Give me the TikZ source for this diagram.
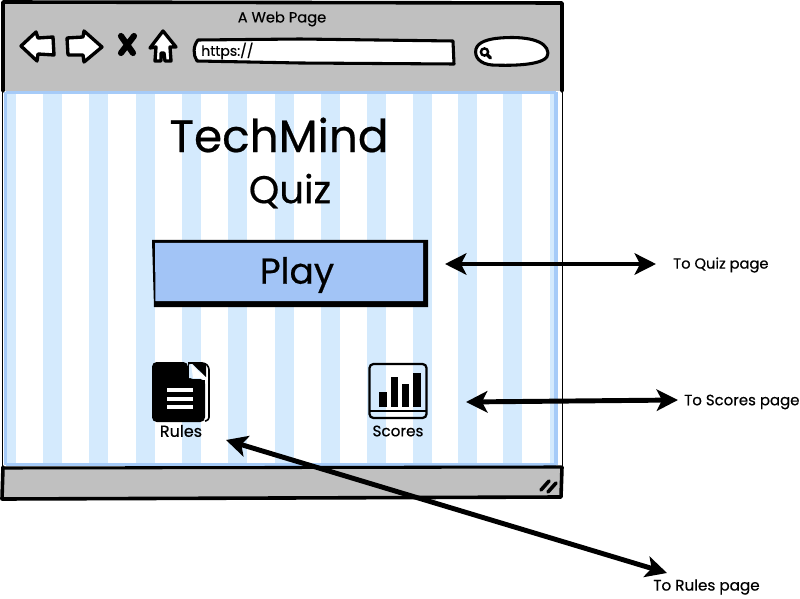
\documentclass[tikz,border=0pt]{standalone}
\usepackage{fontspec}
\setmainfont{Poppins}[FakeBold=0.5]
\usetikzlibrary{arrows.meta}
\definecolor{chrome}{HTML}{C0C0C0}
\definecolor{stripe}{HTML}{D4EAFD}
\definecolor{edgeblue}{HTML}{A6CBF8}
\definecolor{playblue}{HTML}{A2C4F6}
\tikzset{
 ink/.style={draw=black,line width=2.3pt,line join=round,line cap=round},
 toolicon/.style={ink,fill=white,line width=2.5pt},
 linkarrow/.style={draw=black,line width=3.7pt,{Stealth[length=16pt,width=16pt,inset=4pt]}-{Stealth[length=16pt,width=16pt,inset=4pt]}},
 label/.style={inner sep=0pt,text=black},
}
\begin{document}
\begin{tikzpicture}[x=0.75pt,y=-0.75pt]
\useasboundingbox (0,0) rectangle (800,599);
\fill[white] (0,0) rectangle (800,599);
% window body
\fill[white] (3,90) rectangle (560,468);
\foreach \s in {-3,43,89.3,135.6,181.9,228.2,274.5,320.8,367.1,413.4,457.5,503,550}{
  \fill[stripe] ({max(\s,5)},94) rectangle ({min(\s+19,557)},463);
}
\draw[edgeblue,line width=2.2pt] (5.5,92.5) -- (556,92.5) (5.5,464.5) -- (556,464.5) (5.5,92.5) -- (5.5,464.5);
\draw[edgeblue,line width=3pt] (556,92) -- (556,465);
% chrome
\fill[chrome] (3,3) -- (562,3) -- (562,91) -- (3,91) -- cycle;
\fill[chrome] (3,468) -- (561,467) -- (561,498) -- (3,498) -- cycle;
\draw[ink] (3,468) -- (561,467);
% outline: heavy around the bars, thin along the page body
\draw[ink,line width=2.7pt] (3,91) -- (3,2) -- (562,3) -- (562,91);
\draw[ink,line width=2.7pt] (3,467) -- (2,499) -- (561,497) -- (562,467);
\draw[black,line width=1.3pt] (562.5,91) -- (562.5,467);
\draw[black,line width=1.3pt] (2.5,91) -- (2.5,467);
\node[label,font=\fontsize{11}{13}\selectfont] (title) at (282,19) {A Web Page};
% back / forward / stop / home
\draw[toolicon] (21,46) -- (36,32) -- (38,38) -- (53,37) -- (54,55) -- (38,54) -- (37,61) -- cycle;
\draw[toolicon] (67,38) -- (83,37) -- (84,31) -- (102,47) -- (84,62) -- (83,55) -- (68,55) -- cycle;
\draw[draw=black,line width=4.6pt,line cap=round] (121,36) -- (133,53) (134,36) -- (121,53);
\draw[toolicon] (163,31) -- (176,47) -- (170,47) -- (171,61) -- (165,61) -- (164,53) -- (161,53) -- (161,61) -- (155,61) -- (156,47) -- (150,48) -- cycle;
% url box
\draw[ink,fill=white] (198,40) -- (300,39) -- (453,41) -- (454,64) -- (300,63) -- (197,61) .. controls (193,55) and (193,46) .. cycle;
\node[label,anchor=west,font=\fontsize{10.5}{12}\selectfont] (url) at (201,51) {https://};
% search box
\draw[ink,fill=white] (500,38) .. controls (525,36) and (547,40) .. (548,53) .. controls (549,65) and (515,66) .. (492,65) .. controls (480,64) and (474,57) .. (476,49) .. controls (478,42) and (488,39) .. (500,38) -- cycle;
\draw[black,line width=1.8pt] (484.5,52) circle (3.6);
\draw[black,line width=2.6pt,line cap=round] (487.5,55) -- (490.5,58);
% headings
\node[label,font=\fontsize{34}{40}\selectfont] (brand) at (279,135) {TechMind};
\node[label,font=\fontsize{29}{34}\selectfont] (quiz) at (290,191) {Quiz};
% play button
\fill[black] (152,240) -- (428,240) -- (428,307) -- (154,307) -- cycle;
\fill[playblue] (155,243) -- (423,243) -- (423,301) -- (155.5,301) -- cycle;
\node[label,font=\fontsize{27}{32}\selectfont] (play) at (297,275) {Play};
% rules icon
\fill[black,rounded corners=3.5pt] (152,362) -- (188,362) -- (188,379) -- (205,379) -- (205,422) -- (152,422) -- cycle;
\fill[black] (188,362) rectangle (190,380);
\fill[black] (188,380) rectangle (205,383);
\draw[black,line width=1.2pt,rounded corners=2pt] (190,363) -- (205,363) -- (209,367) -- (209,420) -- (205,421);
\fill[stripe] (189,364) -- (189,378) -- (205,378) -- cycle;
\fill[white] (191,364) -- (205,378) -- (193,378) -- cycle;
\fill[black] (192,363.5) -- (206,377) -- (206,364) -- cycle;
\fill[white] (167,388) rectangle (193,392);
\fill[white] (167,397) rectangle (193,401);
\fill[white] (167,405) rectangle (193,409);
\node[label,font=\fontsize{12}{14}\selectfont] (rules) at (181,431) {Rules};
% scores icon
\draw[black,line width=1.7pt,rounded corners=3pt] (369.5,364) rectangle (426.5,418);
\draw[black,line width=2pt] (370,411) -- (426,411);
\fill[black] (379,392) rectangle (387,407);
\fill[black] (391,377) rectangle (398,407);
\fill[black] (402,384) rectangle (409,407);
\fill[black] (413,373) rectangle (421,407);
\node[label,font=\fontsize{11.4}{14}\selectfont] (scores) at (398,431) {Scores};
% resize grip
\draw[draw=black,line width=2.7pt,line cap=round] (541,490) -- (549,481) (548,492) -- (556,483);
% notes
\node[label,anchor=west,font=\fontsize{11}{13}\selectfont] (toquiz) at (673,265) {To Quiz page};
\node[label,anchor=west,font=\fontsize{11.2}{13}\selectfont] (toscores) at (684,402) {To Scores page};
\node[label,anchor=west,font=\fontsize{11.4}{13}\selectfont] (torules) at (653,587) {To Rules page};
\coordinate (playEnd) at (445,264);
\coordinate (quizEnd) at (656,264);
\coordinate (scoresEnd) at (466,402);
\coordinate (scoresNote) at (678,400);
\coordinate (rulesEnd) at (226,440);
\coordinate (rulesNote) at (667,573);
\draw[linkarrow] (playEnd) -- (quizEnd);
\draw[linkarrow] (scoresEnd) -- (scoresNote);
\draw[linkarrow] (rulesEnd) -- (rulesNote);
\end{tikzpicture}
\end{document}
